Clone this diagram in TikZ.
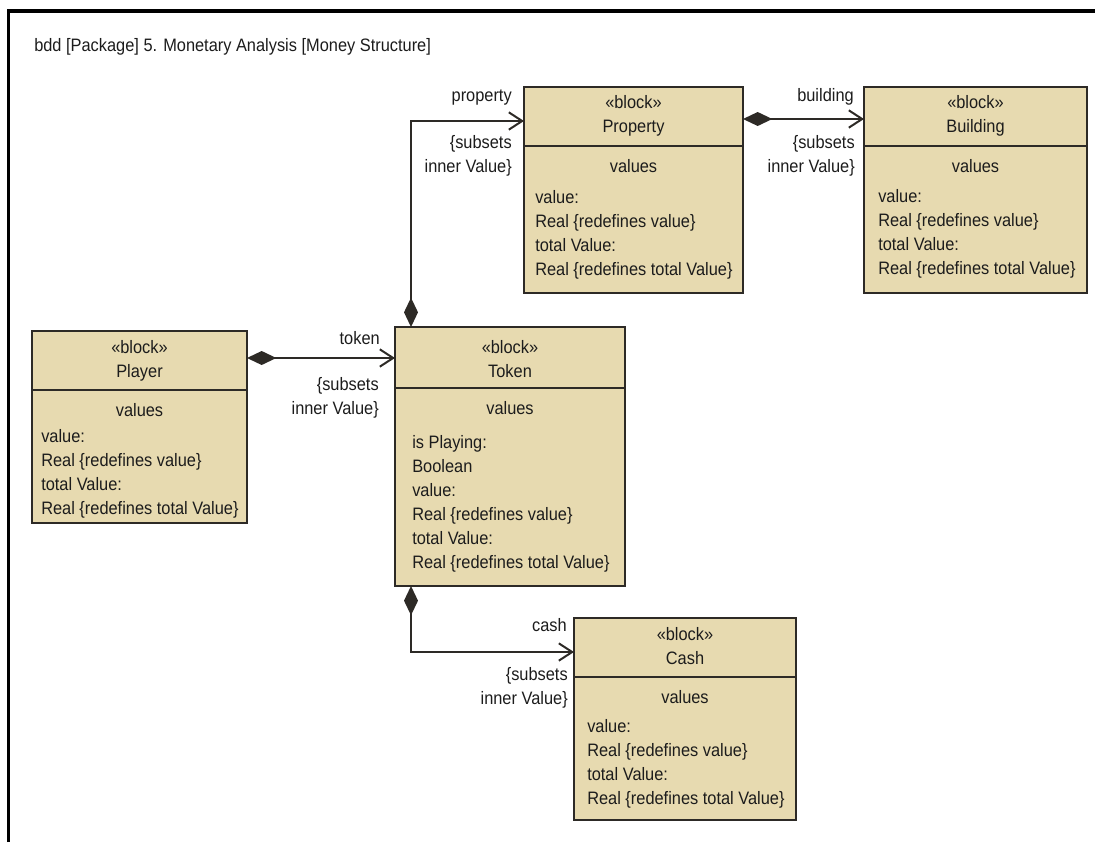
\documentclass[tikz,border=0pt]{standalone}
\usepackage{fontspec}
\setmainfont{Liberation Sans}[FakeStretch=0.91]
\usetikzlibrary{arrows.meta}
\definecolor{blockfill}{RGB}{231,218,176}
\definecolor{edgeink}{RGB}{45,42,38}
\definecolor{textink}{RGB}{28,28,28}
\begin{document}
\begin{tikzpicture}[x=0.75pt,y=-0.75pt,
  font=\fontsize{13.5}{18}\selectfont, text=textink,
  blockbox/.style={draw=edgeink, fill=blockfill, line width=1.5pt,
    inner sep=0pt, outer sep=0pt, anchor=north west},
  divider/.style={draw=edgeink, line width=1.5pt},
  headtext/.style={anchor=north, align=center, inner sep=0pt},
  comptext/.style={anchor=base, inner sep=0pt},
  attrtext/.style={anchor=north west, align=left, inner sep=0pt},
  rolename/.style={anchor=base east, inner sep=0pt},
  roleprop/.style={anchor=north east, align=right, inner sep=0pt},
  composition/.style={draw=edgeink, line width=1.5pt,
    {Diamond[length=22pt,width=10.5pt]}-{Straight Barb[length=10pt,width=13pt]}}]

\useasboundingbox (0,0) rectangle (1095,842);

% diagram frame (top and left edges)
\draw[line width=2.4pt, draw=black] (8.5,842) -- (8.5,11) -- (1095,11);
\node[anchor=base west, inner sep=0pt] (title) at (34,52)
  {bdd [Package] 5. Monetary Analysis [Money Structure]};

% ---------- Property ----------
\node[blockbox, minimum width=164.25pt, minimum height=154.5pt] (prop) at (524,87) {};
\draw[divider] (prop.west |- 0,146) -- (prop.east |- 0,146);
\node[headtext] (propH) at (633.5,95) {«block»\\Property};
\node[comptext] (propV) at (633.5,172) {values};
\node[attrtext] (propA) at (535,190)
  {value:\\Real \{redefines value\}\\total Value:\\Real \{redefines total Value\}};

% ---------- Building ----------
\node[blockbox, minimum width=167.25pt, minimum height=154.5pt] (build) at (864,87) {};
\draw[divider] (build.west |- 0,146) -- (build.east |- 0,146);
\node[headtext] (buildH) at (975.5,95) {«block»\\Building};
\node[comptext] (buildV) at (975.5,172) {values};
\node[attrtext] (buildA) at (878,189)
  {value:\\Real \{redefines value\}\\total Value:\\Real \{redefines total Value\}};

% ---------- Token ----------
\node[blockbox, minimum width=172.5pt, minimum height=194.25pt] (token) at (395,327) {};
\draw[divider] (token.west |- 0,388) -- (token.east |- 0,388);
\node[headtext] (tokenH) at (510,340) {«block»\\Token};
\node[comptext] (tokenV) at (510,414) {values};
\node[attrtext] (tokenA) at (412,435)
  {is Playing:\\Boolean\\value:\\Real \{redefines value\}\\total Value:\\Real \{redefines total Value\}};

% ---------- Player ----------
\node[blockbox, minimum width=161.25pt, minimum height=144pt] (player) at (32,331) {};
\draw[divider] (player.west |- 0,390) -- (player.east |- 0,390);
\node[headtext] (playerH) at (139.5,340) {«block»\\Player};
\node[comptext] (playerV) at (139.5,416) {values};
\node[attrtext] (playerA) at (41,429)
  {value:\\Real \{redefines value\}\\total Value:\\Real \{redefines total Value\}};

% ---------- Cash ----------
\node[blockbox, minimum width=166.5pt, minimum height=151.5pt] (cash) at (574,618) {};
\draw[divider] (cash.west |- 0,677) -- (cash.east |- 0,677);
\node[headtext] (cashH) at (685,627) {«block»\\Cash};
\node[comptext] (cashV) at (685,703) {values};
\node[attrtext] (cashA) at (587,719)
  {value:\\Real \{redefines value\}\\total Value:\\Real \{redefines total Value\}};

% ---------- composite associations ----------
\draw[composition] ([xshift=12pt]token.north west) |- ([yshift=-25.5pt]prop.north west);
\draw[composition] ([yshift=-24pt]prop.north east) -- ([yshift=-24pt]build.north west);
\draw[composition] ([yshift=-20.25pt]player.north east) coordinate (pstart)
  -- (pstart -| token.west);
\draw[composition] ([xshift=12pt]token.south west) |- ([yshift=-25.5pt]cash.north west);

% ---------- role names and constraints ----------
\node[rolename] (propR) at (512,102) {property};
\node[roleprop] (propC) at (512,135) {\{subsets\\inner Value\}};
\node[rolename] (buildR) at (854,102) {building};
\node[roleprop] (buildC) at (855,135) {\{subsets\\inner Value\}};
\node[rolename] (tokenR) at (380,344) {token};
\node[roleprop] (tokenC) at (379,377) {\{subsets\\inner Value\}};
\node[rolename] (cashR) at (567,631) {cash};
\node[roleprop] (cashC) at (568,667) {\{subsets\\inner Value\}};

\end{tikzpicture}
\end{document}
